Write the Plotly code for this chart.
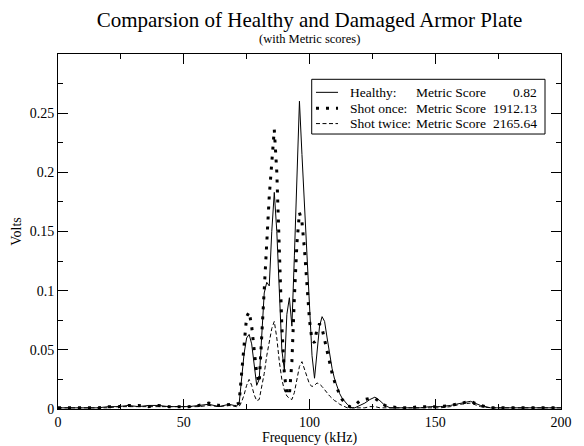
import plotly.graph_objects as go

freq = [0, 4, 8, 12, 16, 20, 24, 28, 32, 36, 40, 44, 48, 52, 56, 60, 64, 68,
        70, 71, 72, 73, 74, 75, 76, 77, 78, 79, 80, 81, 82, 83, 84, 85, 86, 87, 88, 89,
        90, 91, 92, 93, 94, 95, 96, 97, 98, 99, 100, 101, 102, 103, 104, 105, 106, 107,
        108, 109, 110, 111, 112, 113, 114, 115, 116, 117, 118, 119, 120,
        122, 124, 126, 128, 130, 132,
        136, 140, 144, 148, 152, 156, 160, 164, 168, 172, 176, 180, 184, 188, 192, 196, 200]

healthy = [0.001, 0.001, 0.001, 0.001, 0.001, 0.002, 0.002, 0.003, 0.002, 0.003, 0.003, 0.002,
           0.002, 0.002, 0.003, 0.004, 0.002, 0.004,
           0.003, 0.003, 0.004, 0.025, 0.047, 0.060, 0.063, 0.055, 0.035, 0.020, 0.025, 0.065,
           0.098, 0.107, 0.104, 0.150, 0.183, 0.150, 0.095, 0.050, 0.033, 0.080, 0.094, 0.070,
           0.130, 0.195, 0.260, 0.215, 0.172, 0.130, 0.085, 0.045, 0.026, 0.048, 0.070, 0.078,
           0.074, 0.060, 0.046, 0.034, 0.025, 0.018, 0.013, 0.009, 0.006, 0.004, 0.002, 0.001,
           0.001, 0.002, 0.003,
           0.005, 0.008, 0.010, 0.007, 0.003, 0.001,
           0.001, 0.001, 0.001, 0.002, 0.002, 0.003, 0.005, 0.0065, 0.003, 0.001, 0.001, 0.001,
           0.001, 0.001, 0.001, 0.001, 0.001]

shot_once = [0.001, 0.001, 0.0015, 0.001, 0.001, 0.002, 0.002, 0.003, 0.003, 0.002, 0.003, 0.002,
             0.002, 0.002, 0.003, 0.005, 0.003, 0.004,
             0.004, 0.004, 0.005, 0.030, 0.055, 0.078, 0.082, 0.070, 0.050, 0.030, 0.022, 0.065,
             0.105, 0.140, 0.180, 0.210, 0.236, 0.200, 0.135, 0.070, 0.030, 0.013, 0.012, 0.040,
             0.095, 0.140, 0.166, 0.158, 0.135, 0.100, 0.075, 0.058, 0.056, 0.068, 0.072, 0.068,
             0.058, 0.048, 0.038, 0.030, 0.023, 0.017, 0.012, 0.008, 0.005, 0.003, 0.002, 0.002,
             0.003, 0.005, 0.007,
             0.008, 0.009, 0.009, 0.006, 0.003, 0.002,
             0.001, 0.001, 0.002, 0.002, 0.002, 0.003, 0.005, 0.0065, 0.003, 0.001, 0.001, 0.001,
             0.001, 0.001, 0.001, 0.001, 0.001]

shot_twice = [0.001, 0.001, 0.001, 0.001, 0.001, 0.001, 0.002, 0.002, 0.002, 0.002, 0.002, 0.002,
              0.002, 0.002, 0.002, 0.003, 0.002, 0.003,
              0.002, 0.002, 0.002, 0.006, 0.012, 0.020, 0.025, 0.020, 0.012, 0.007, 0.008, 0.018,
              0.030, 0.045, 0.058, 0.068, 0.074, 0.060, 0.040, 0.025, 0.016, 0.011, 0.009, 0.008,
              0.014, 0.026, 0.036, 0.040, 0.034, 0.027, 0.021, 0.019, 0.020, 0.022, 0.021, 0.019,
              0.016, 0.013, 0.011, 0.009, 0.007, 0.006, 0.004, 0.003, 0.002, 0.001, 0.001, 0.001,
              0.001, 0.001, 0.001,
              0.001, 0.002, 0.002, 0.001, 0.001, 0.001,
              0.001, 0.001, 0.001, 0.001, 0.001, 0.002, 0.004, 0.005, 0.002, 0.001, 0.001, 0.001,
              0.001, 0.001, 0.001, 0.001, 0.001]

series_names = ["Healthy:", "Shot once:", "Shot twice:"]
score_label = "Metric Score"
metric_scores = ["0.82", "1912.13", "2165.64"]

FONT = "Liberation Serif, Times New Roman, serif"
styles = [
    dict(color="black", width=1),
    dict(color="black", width=3, dash="3px,7px"),
    dict(color="black", width=1, dash="4px,2.5px"),
]

fig = go.Figure()
for name, score, vals, st in zip(series_names, metric_scores,
                                 [healthy, shot_once, shot_twice], styles):
    fig.add_trace(go.Scatter(x=freq, y=vals, mode="lines",
                             name=f"{name} {score_label} {score}",
                             line=st, showlegend=False))

# Legend box drawn in paper coordinates (compact, column-aligned like the reference)
row_y = [0.892, 0.847, 0.804]
box = dict(x0=0.5044, x1=0.9682, y0=0.7746, y1=0.9287)
shapes = [dict(type="rect", xref="paper", yref="paper", layer="above",
               fillcolor="white", line=dict(color="black", width=1), **box)]
annotations = []
for name, score, st, ry in zip(series_names, metric_scores, styles, row_y):
    shapes.append(dict(type="line", xref="paper", yref="paper", layer="above",
                       x0=0.5129, x1=0.5567, y0=ry, y1=ry, line=st))
    common = dict(xref="paper", yref="paper", y=ry, yanchor="middle", showarrow=False,
                  font=dict(family=FONT, size=13.5, color="black"))
    annotations.append(dict(text=name, x=0.5775, xanchor="left", **common))
    annotations.append(dict(text=score_label, x=0.7085, xanchor="left", **common))
    annotations.append(dict(text=score, x=0.9565, xanchor="right", **common))

annotations.append(dict(
    text="(with Metric scores)", xref="paper", yref="paper",
    x=0.5, y=1.0423, xanchor="center", yanchor="middle", showarrow=False,
    font=dict(family=FONT, size=12.5, color="black"),
))

axis_common = dict(
    showline=True, linecolor="black", linewidth=1, mirror="allticks",
    ticks="inside", ticklen=10, tickwidth=1, tickcolor="black",
    showgrid=False, zeroline=False, automargin=False,
    tickfont=dict(family=FONT, size=14, color="black"),
)

fig.update_layout(
    width=576, height=438,
    margin=dict(l=50, r=23, t=46, b=37),
    paper_bgcolor="white", plot_bgcolor="white",
    font=dict(family=FONT, color="black"),
    showlegend=False,
    title=dict(
        text="Comparsion of Healthy and Damaged Armor Plate",
        x=0.5, xanchor="center", xref="paper",
        y=0.9726, yanchor="middle", yref="container",
        font=dict(family=FONT, size=21, color="black"),
    ),
    shapes=shapes,
    annotations=annotations,
    xaxis=dict(range=[0, 200], dtick=50, tick0=0,
               minor=dict(dtick=25, ticks="inside", ticklen=5, tickcolor="black"),
               title=dict(text="Frequency (kHz)", font=dict(family=FONT, size=14), standoff=0),
               **axis_common),
    yaxis=dict(range=[0, 0.2999], dtick=0.05, tick0=0,
               minor=dict(dtick=0.025, ticks="inside", ticklen=5, tickcolor="black"),
               title=dict(text="Volts", font=dict(family=FONT, size=14), standoff=4),
               **axis_common),
)

fig.write_html("out.html")
